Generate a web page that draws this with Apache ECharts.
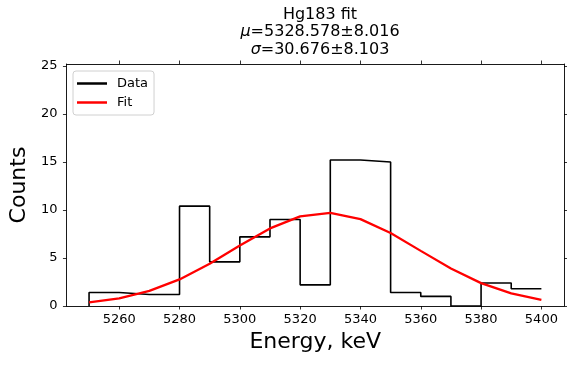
<!DOCTYPE html>
<html>
<head>
<meta charset="utf-8">
<script src="https://cdn.jsdelivr.net/npm/echarts@6/dist/echarts.min.js"></script>
<style>
html,body{margin:0;padding:0;background:#fff;}
#chart{width:567px;height:366px;}
</style>
</head>
<body>
<div id="chart"></div>
<script>
// Histogram bins (left edges), width 10 keV
const binEdges = [5250, 5260, 5270, 5280, 5290, 5300, 5310, 5320, 5330, 5340, 5350, 5360, 5370, 5380, 5390];
const binWidth = 10;
const counts = [1.4, 1.2, 1.2, 10.4, 4.6, 7.2, 9.0, 2.2, 15.2, 15.0, 1.4, 1.0, 0.0, 2.4, 1.8];
// Fit curve
const fitX = [5250, 5260, 5270, 5280, 5290, 5300, 5310, 5320, 5330, 5340, 5350, 5360, 5370, 5380, 5390, 5400];
const fitY = [0.37, 0.8, 1.57, 2.77, 4.4, 6.29, 8.08, 9.33, 9.69, 9.05, 7.6, 5.74, 3.9, 2.38, 1.31, 0.64];
// Tick labels
const xTicks = [5260, 5280, 5300, 5320, 5340, 5360, 5380, 5400];
const yTicks = [0, 5, 10, 15, 20, 25];

const stepData = [[binEdges[0], 0]];
for (let i = 0; i < binEdges.length; i++) {
  stepData.push([binEdges[i], counts[i]]);
  stepData.push([binEdges[i] + binWidth, counts[i]]);
}
const fitData = fitX.map((x, i) => [x, fitY[i]]);

const XMIN = 5242.5, XMAX = 5407.5, YMIN = 0, YMAX = 25.2;
const font = 'DejaVu Sans';
const tick = {show: true, inside: false, length: 3.5, lineStyle: {color: '#000', width: 0.8}};
const axLine = {show: true, onZero: false, lineStyle: {color: '#000', width: 0.9}};
const plain = v => String(v);

const chart = echarts.init(document.getElementById('chart'), null, {renderer: 'canvas'});
chart.setOption({
  animation: false,
  backgroundColor: '#fff',
  textStyle: {fontFamily: font},
  title: {
    left: 315, top: 1, textAlign: 'center',
    text: 'Hg183 fit\n{i|μ}=5328.578±8.016\n{i|σ}=30.676±8.103',
    textStyle: {
      fontFamily: font, fontSize: 16, fontWeight: 'normal', color: '#000', lineHeight: 17.5,
      rich: {i: {fontFamily: font, fontSize: 16, fontStyle: 'italic', color: '#000', lineHeight: 17.5}}
    }
  },
  legend: {
    left: 73, top: 71, orient: 'vertical',
    data: ['Data', 'Fit'],
    icon: 'rect', itemWidth: 30, itemHeight: 2.5, itemGap: 6,
    padding: [6, 6, 6, 4],
    borderColor: '#d0d0d0', borderWidth: 1, borderRadius: 3, backgroundColor: 'rgba(255,255,255,0.8)',
    textStyle: {fontFamily: font, fontSize: 13, color: '#000', padding: [0, 0, 0, 5]}
  },
  grid: {left: 66, right: 3, top: 64, bottom: 60, containLabel: false},
  xAxis: [{
    type: 'value', min: XMIN, max: XMAX, position: 'bottom',
    name: 'Energy, keV', nameLocation: 'middle', nameGap: 25,
    nameTextStyle: {fontFamily: font, fontSize: 22, color: '#000'},
    axisLine: axLine, axisTick: Object.assign({customValues: xTicks}, tick),
    axisLabel: {customValues: xTicks, formatter: plain, fontFamily: font, fontSize: 13, color: '#000', margin: 7},
    splitLine: {show: false}
  }, {
    type: 'value', min: XMIN, max: XMAX, position: 'top',
    axisLine: axLine, axisTick: Object.assign({customValues: xTicks}, tick),
    axisLabel: {show: false}, splitLine: {show: false}
  }],
  yAxis: [{
    type: 'value', min: YMIN, max: YMAX, position: 'left',
    name: 'Counts', nameLocation: 'middle', nameGap: 34, nameRotate: 90,
    nameTextStyle: {fontFamily: font, fontSize: 22, color: '#000'},
    axisLine: axLine, axisTick: Object.assign({customValues: yTicks}, tick),
    axisLabel: {customValues: yTicks, formatter: plain, fontFamily: font, fontSize: 13, color: '#000', margin: 9},
    splitLine: {show: false}
  }, {
    type: 'value', min: YMIN, max: YMAX, position: 'right',
    axisLine: axLine, axisTick: Object.assign({customValues: yTicks}, tick),
    axisLabel: {show: false}, splitLine: {show: false}
  }],
  series: [{
    name: 'Data', type: 'line', data: stepData, showSymbol: false, symbol: 'none',
    itemStyle: {color: '#000'}, lineStyle: {color: '#000', width: 1.6}, z: 2
  }, {
    name: 'Fit', type: 'line', data: fitData, showSymbol: false, symbol: 'none',
    itemStyle: {color: '#ff0000'}, lineStyle: {color: '#ff0000', width: 2.3}, z: 3
  }]
});
</script>
</body>
</html>
